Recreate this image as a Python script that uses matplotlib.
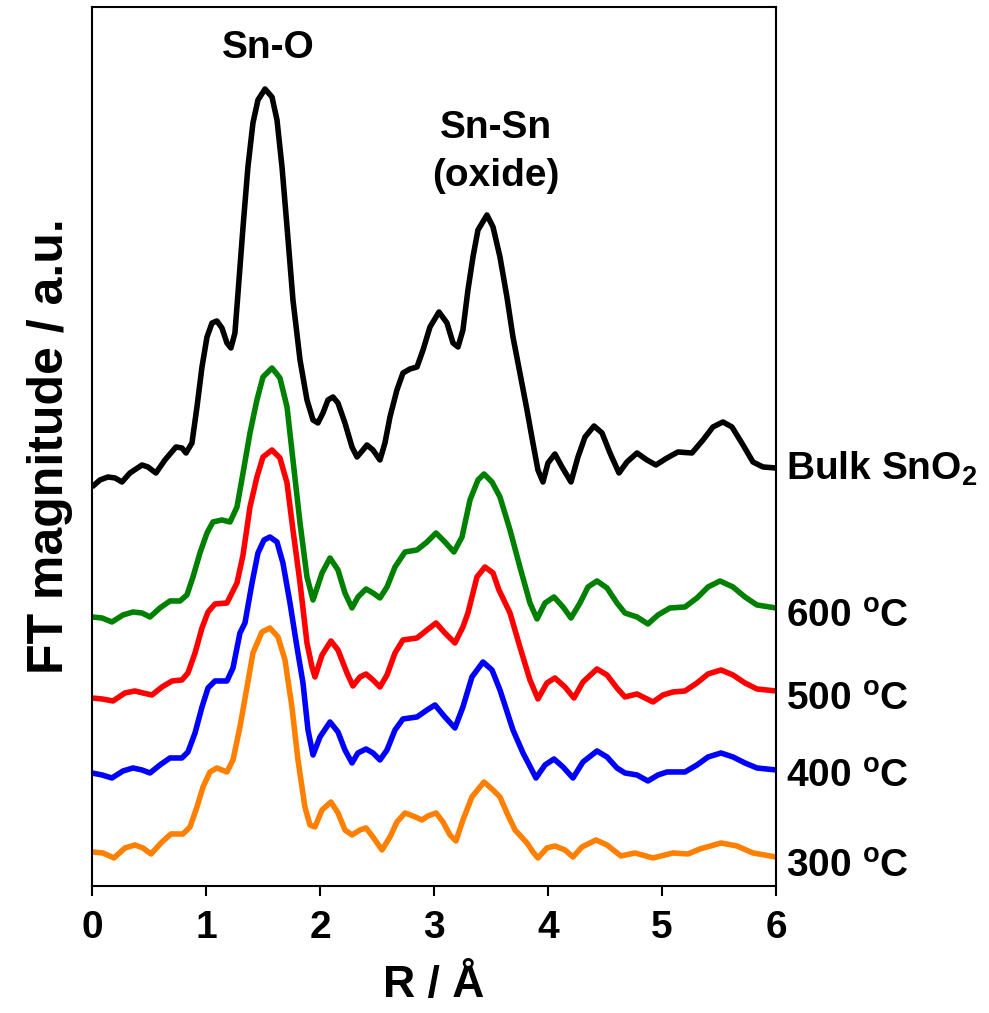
import matplotlib
matplotlib.use("Agg")
import matplotlib.pyplot as plt

plt.rcParams['font.family'] = ['Liberation Sans', 'DejaVu Sans']
plt.rcParams['font.weight'] = 'bold'

# R (Angstrom) and FT magnitude (a.u., stacked offsets included as in the figure)
r_bulk = [0.000, 0.070, 0.140, 0.202, 0.263, 0.333, 0.439, 0.491, 0.561, 0.640, 0.737, 0.789, 0.825,
          0.877, 0.921, 0.965, 1.009, 1.053, 1.096, 1.140, 1.184, 1.219, 1.254, 1.281, 1.325, 1.368,
          1.412, 1.456, 1.518, 1.579, 1.623, 1.667, 1.711, 1.763, 1.825, 1.886, 1.939, 1.982, 2.026,
          2.070, 2.114, 2.158, 2.219, 2.281, 2.325, 2.377, 2.412, 2.465, 2.526, 2.570, 2.614, 2.675,
          2.728, 2.789, 2.851, 2.904, 2.965, 3.044, 3.114, 3.167, 3.211, 3.254, 3.298, 3.342, 3.386,
          3.465, 3.518, 3.579, 3.640, 3.693, 3.754, 3.816, 3.868, 3.912, 3.956, 4.000, 4.061, 4.123,
          4.202, 4.263, 4.325, 4.404, 4.474, 4.544, 4.623, 4.693, 4.781, 4.868, 4.947, 5.044, 5.140,
          5.263, 5.360, 5.447, 5.535, 5.614, 5.711, 5.798, 5.886, 6.000]
ft_bulk = [3.99, 4.06, 4.09, 4.08, 4.04, 4.13, 4.21, 4.19, 4.13, 4.26, 4.39, 4.38, 4.33,
           4.43, 4.79, 5.19, 5.49, 5.63, 5.65, 5.58, 5.43, 5.38, 5.53, 5.93, 6.59, 7.19,
           7.63, 7.86, 7.97, 7.89, 7.66, 7.19, 6.59, 5.86, 5.26, 4.86, 4.66, 4.63, 4.73,
           4.86, 4.89, 4.83, 4.63, 4.39, 4.29, 4.36, 4.41, 4.36, 4.26, 4.43, 4.69, 4.96,
           5.13, 5.17, 5.19, 5.36, 5.59, 5.74, 5.63, 5.43, 5.39, 5.56, 5.96, 6.29, 6.56,
           6.71, 6.59, 6.29, 5.89, 5.49, 5.13, 4.76, 4.43, 4.16, 4.04, 4.23, 4.32, 4.19,
           4.04, 4.29, 4.49, 4.60, 4.53, 4.33, 4.13, 4.24, 4.33, 4.26, 4.21, 4.28, 4.34,
           4.33, 4.46, 4.59, 4.64, 4.59, 4.41, 4.24, 4.19, 4.18]

r_600 = [0.000, 0.088, 0.175, 0.272, 0.360, 0.439, 0.509, 0.596, 0.684, 0.772, 0.833, 0.886, 0.947,
         1.009, 1.061, 1.140, 1.211, 1.272, 1.325, 1.386, 1.447, 1.500, 1.579, 1.649, 1.711, 1.763,
         1.825, 1.886, 1.939, 2.018, 2.088, 2.158, 2.219, 2.281, 2.333, 2.404, 2.465, 2.526, 2.588,
         2.658, 2.746, 2.851, 2.939, 3.018, 3.096, 3.175, 3.246, 3.316, 3.386, 3.439, 3.509, 3.579,
         3.667, 3.754, 3.842, 3.904, 3.974, 4.053, 4.132, 4.202, 4.281, 4.351, 4.430, 4.518, 4.605,
         4.675, 4.781, 4.877, 4.965, 5.070, 5.202, 5.307, 5.404, 5.509, 5.623, 5.728, 5.833, 6.000]
ft_600 = [2.69, 2.68, 2.64, 2.71, 2.74, 2.73, 2.69, 2.78, 2.85, 2.85, 2.91, 3.09, 3.33,
          3.53, 3.64, 3.66, 3.64, 3.79, 4.13, 4.53, 4.86, 5.09, 5.18, 5.08, 4.79, 4.26,
          3.63, 3.09, 2.86, 3.13, 3.28, 3.16, 2.93, 2.78, 2.89, 2.97, 2.93, 2.88, 2.99,
          3.19, 3.34, 3.36, 3.44, 3.53, 3.44, 3.34, 3.49, 3.86, 4.06, 4.12, 4.04, 3.89,
          3.56, 3.19, 2.83, 2.67, 2.83, 2.89, 2.79, 2.68, 2.83, 2.99, 3.05, 2.98, 2.83,
          2.73, 2.69, 2.62, 2.71, 2.78, 2.79, 2.88, 2.99, 3.05, 2.99, 2.89, 2.81, 2.78]

r_500 = [0.000, 0.088, 0.184, 0.289, 0.377, 0.447, 0.526, 0.614, 0.702, 0.789, 0.842, 0.904, 0.965,
         1.018, 1.079, 1.184, 1.272, 1.325, 1.386, 1.447, 1.500, 1.579, 1.649, 1.711, 1.763, 1.825,
         1.886, 1.930, 1.956, 2.018, 2.096, 2.158, 2.237, 2.289, 2.351, 2.404, 2.465, 2.526, 2.588,
         2.658, 2.728, 2.851, 2.939, 3.018, 3.096, 3.184, 3.254, 3.298, 3.377, 3.447, 3.518, 3.570,
         3.667, 3.754, 3.842, 3.912, 3.991, 4.061, 4.149, 4.228, 4.307, 4.430, 4.518, 4.605, 4.675,
         4.781, 4.921, 5.009, 5.096, 5.202, 5.307, 5.404, 5.518, 5.623, 5.728, 5.833, 6.000]
ft_500 = [1.88, 1.87, 1.85, 1.93, 1.95, 1.93, 1.91, 1.99, 2.05, 2.06, 2.13, 2.33, 2.58,
          2.74, 2.82, 2.83, 3.03, 3.31, 3.79, 4.09, 4.29, 4.36, 4.28, 4.03, 3.56, 3.03,
          2.43, 2.19, 2.09, 2.31, 2.45, 2.36, 2.13, 2.00, 2.09, 2.12, 2.06, 1.99, 2.11,
          2.33, 2.46, 2.48, 2.56, 2.63, 2.53, 2.43, 2.59, 2.73, 3.09, 3.19, 3.13, 2.96,
          2.73, 2.39, 2.06, 1.87, 2.03, 2.08, 1.99, 1.88, 2.04, 2.17, 2.11, 1.98, 1.89,
          1.92, 1.84, 1.91, 1.94, 1.95, 2.03, 2.12, 2.16, 2.11, 2.03, 1.97, 1.95]

r_400 = [0.000, 0.088, 0.175, 0.272, 0.360, 0.439, 0.509, 0.596, 0.684, 0.789, 0.842, 0.904, 0.965,
         1.018, 1.079, 1.184, 1.237, 1.298, 1.342, 1.404, 1.456, 1.509, 1.561, 1.623, 1.675, 1.737,
         1.798, 1.851, 1.895, 1.939, 2.000, 2.088, 2.158, 2.219, 2.281, 2.333, 2.404, 2.465, 2.526,
         2.588, 2.658, 2.728, 2.851, 2.939, 3.009, 3.096, 3.184, 3.254, 3.333, 3.430, 3.509, 3.579,
         3.693, 3.781, 3.895, 3.974, 4.053, 4.132, 4.219, 4.307, 4.430, 4.518, 4.605, 4.675, 4.781,
         4.877, 4.965, 5.044, 5.202, 5.307, 5.404, 5.518, 5.623, 5.728, 5.833, 6.000]
ft_400 = [1.13, 1.11, 1.08, 1.15, 1.18, 1.16, 1.13, 1.21, 1.28, 1.28, 1.34, 1.53, 1.79,
          1.98, 2.05, 2.05, 2.18, 2.53, 2.63, 3.03, 3.33, 3.46, 3.49, 3.44, 3.23, 2.83,
          2.39, 2.03, 1.56, 1.31, 1.49, 1.64, 1.54, 1.36, 1.23, 1.33, 1.37, 1.33, 1.26,
          1.36, 1.56, 1.67, 1.69, 1.76, 1.81, 1.69, 1.58, 1.79, 2.09, 2.24, 2.16, 1.96,
          1.56, 1.33, 1.08, 1.21, 1.27, 1.19, 1.08, 1.24, 1.35, 1.29, 1.18, 1.13, 1.11,
          1.05, 1.11, 1.14, 1.14, 1.21, 1.29, 1.33, 1.29, 1.23, 1.18, 1.16]

r_300 = [0.000, 0.096, 0.193, 0.289, 0.377, 0.447, 0.518, 0.614, 0.693, 0.798, 0.860, 0.921, 0.974,
         1.035, 1.096, 1.184, 1.237, 1.298, 1.360, 1.412, 1.491, 1.561, 1.632, 1.693, 1.754, 1.807,
         1.868, 1.912, 1.956, 2.018, 2.096, 2.158, 2.219, 2.281, 2.351, 2.404, 2.465, 2.544, 2.614,
         2.675, 2.746, 2.816, 2.895, 2.947, 3.018, 3.079, 3.140, 3.193, 3.254, 3.333, 3.439, 3.518,
         3.579, 3.640, 3.711, 3.816, 3.868, 3.912, 3.991, 4.061, 4.149, 4.219, 4.298, 4.421, 4.518,
         4.640, 4.763, 4.921, 5.096, 5.228, 5.333, 5.518, 5.658, 5.798, 6.000]
ft_300 = [0.34, 0.33, 0.28, 0.38, 0.41, 0.38, 0.32, 0.44, 0.52, 0.52, 0.59, 0.79, 0.99,
          1.14, 1.18, 1.14, 1.26, 1.59, 1.99, 2.33, 2.54, 2.58, 2.49, 2.26, 1.79, 1.26,
          0.79, 0.61, 0.59, 0.76, 0.84, 0.73, 0.56, 0.51, 0.56, 0.58, 0.49, 0.36, 0.49,
          0.64, 0.73, 0.70, 0.66, 0.70, 0.73, 0.64, 0.51, 0.45, 0.66, 0.89, 1.04, 0.96,
          0.89, 0.73, 0.56, 0.43, 0.34, 0.28, 0.38, 0.40, 0.36, 0.29, 0.39, 0.46, 0.41,
          0.30, 0.33, 0.28, 0.33, 0.32, 0.37, 0.43, 0.40, 0.33, 0.29]

fig = plt.figure(figsize=(9.89, 10.13), dpi=100)
ax = fig.add_axes([0.093, 0.1254, 0.6916, 0.8677])

style = dict(lw=4, solid_joinstyle='round', solid_capstyle='butt')
ax.plot(r_bulk, ft_bulk, color='black', **style)
ax.plot(r_600, ft_600, color='#008000', **style)
ax.plot(r_500, ft_500, color='#ff0000', **style)
ax.plot(r_400, ft_400, color='#0000ff', **style)
ax.plot(r_300, ft_300, color='#ff8000', **style)

ax.set_xlim(0, 6)
ax.set_ylim(0, 8.79)
ax.set_xticks([0, 1, 2, 3, 4, 5, 6])
ax.set_yticks([])
ax.tick_params(axis='x', direction='out', length=7, width=1.5, labelsize=28, pad=10)
for s in ax.spines.values():
    s.set_linewidth(1.5)

ax.set_xlabel('R / Å', fontsize=32, fontweight='bold', labelpad=14)
ax.set_ylabel('FT magnitude / a.u.', fontsize=36, fontweight='bold', labelpad=14)

ax.text(1.55, 8.38, 'Sn-O', fontsize=28, ha='center', va='center')
ax.text(3.54, 7.34, 'Sn-Sn\n(oxide)', fontsize=28, ha='center', va='center', linespacing=1.4)

ax.text(6.09, 4.06, 'Bulk SnO$_\\mathregular{2}$', fontsize=28, va='baseline', clip_on=False)
ax.text(6.09, 2.59, '600 $^\\mathregular{o}$C', fontsize=28, va='baseline', clip_on=False)
ax.text(6.09, 1.76, '500 $^\\mathregular{o}$C', fontsize=28, va='baseline', clip_on=False)
ax.text(6.09, 0.99, '400 $^\\mathregular{o}$C', fontsize=28, va='baseline', clip_on=False)
ax.text(6.09, 0.09, '300 $^\\mathregular{o}$C', fontsize=28, va='baseline', clip_on=False)

plt.savefig('out.png', dpi=100)
